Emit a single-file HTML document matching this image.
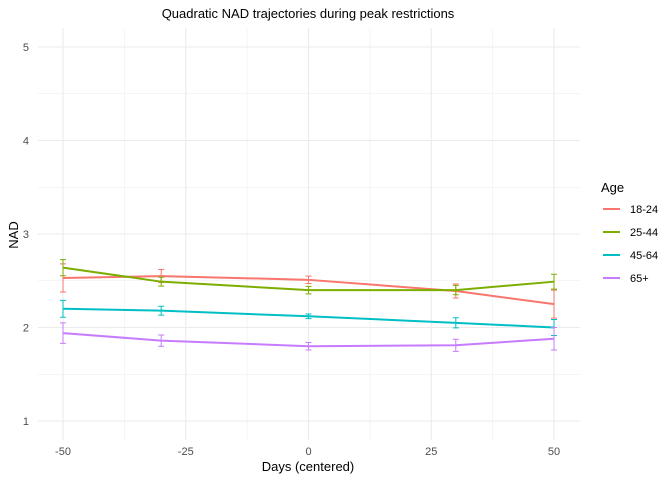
<!DOCTYPE html>
<html><head><meta charset="utf-8"><style>
body{margin:0;background:#fff;font-family:"Liberation Sans",sans-serif}
</style></head><body>
<svg id="c" width="672" height="480" xmlns="http://www.w3.org/2000/svg"></svg>
<script>
const xVals=[-50,-30,0,30,50];
const groups=["18-24","25-44","45-64","65+"];
const colors=["#F8766D","#7CAE00","#00BFC4","#C77CFF"];
const v1824=[2.53,2.55,2.51,2.39,2.25];
const v2544=[2.64,2.49,2.40,2.40,2.49];
const v4564=[2.20,2.18,2.12,2.05,2.00];
const v65=[1.94,1.86,1.80,1.81,1.88];
const e1824=[0.15,0.07,0.04,0.075,0.15];
const e2544=[0.086,0.047,0.04,0.05,0.08];
const e4564=[0.09,0.047,0.025,0.054,0.085];
const e65=[0.11,0.06,0.04,0.065,0.12];
const xTicks=[-50,-25,0,25,50];
const yTicks=[1,2,3,4,5];
const series=[v1824,v2544,v4564,v65];
const errs=[e1824,e2544,e4564,e65];
const svg=document.getElementById('c');
const NS="http://www.w3.org/2000/svg";
const X=v=>308.5+v*4.91;
const Y=v=>421-(v-1)*93.5;
function mk(t,a,p){const e=document.createElementNS(NS,t);for(const k in a)e.setAttribute(k,a[k]);(p||svg).appendChild(e);return e;}
const grid=mk('g',{});


for(let v=-62.5;v<=62.5;v+=12.5){const x=X(v);if(x<38||x>580)continue;const maj=Math.abs(v%25)<0.01;mk('line',{x1:x,x2:x,y1:28,y2:440,stroke:'#ebebeb','stroke-width':maj?1.1:0.5},grid);}
for(let v=1;v<=5;v+=0.5){const y=Y(v);mk('line',{x1:38,x2:580,y1:y,y2:y,stroke:'#ebebeb','stroke-width':v%1===0?1.1:0.5},grid);}
xTicks.forEach(t=>{const e=mk('text',{x:X(t),y:455,'text-anchor':'middle','font-size':11,fill:'#4d4d4d'});e.textContent=t;

});
yTicks.forEach(t=>{const e=mk('text',{x:29,y:Y(t)+4,'text-anchor':'end','font-size':11,fill:'#4d4d4d'});e.textContent=t;

});
series.forEach((s,i)=>{
 const g=mk('g',{});
 
 
 s.forEach((v,j)=>{const x=X(xVals[j]),y1=Y(v+errs[i][j]),y2=Y(v-errs[i][j]);
  mk('path',{d:`M${x-3},${y1}H${x+3}M${x},${y1}V${y2}M${x-3},${y2}H${x+3}`,stroke:colors[i],'stroke-width':1,fill:'none'},g);});
 const l=mk('polyline',{points:s.map((v,j)=>X(xVals[j])+','+Y(v)).join(' '),stroke:colors[i],'stroke-width':2,fill:'none'},g);
 
 
});
let t=mk('text',{x:308,y:18,'text-anchor':'middle','font-size':13,fill:'#000'});t.textContent='Quadratic NAD trajectories during peak restrictions';


t=mk('text',{x:308,y:471,'text-anchor':'middle','font-size':13,fill:'#000'});t.textContent='Days (centered)';


t=mk('text',{x:18,y:235,'text-anchor':'middle','font-size':13,fill:'#000',transform:'rotate(-90 18 235)'});t.textContent='NAD';


t=mk('text',{x:601,y:192,'font-size':13,fill:'#000'});t.textContent='Age';


groups.forEach((gname,i)=>{const y=209+i*23;const g=mk('g',{});
 
 
 mk('line',{x1:603,x2:620,y1:y,y2:y,stroke:colors[i],'stroke-width':2},g);
 const e=mk('text',{x:630,y:y+4,'font-size':11,fill:'#000'},g);e.textContent=gname;});
</script>
</body></html>
